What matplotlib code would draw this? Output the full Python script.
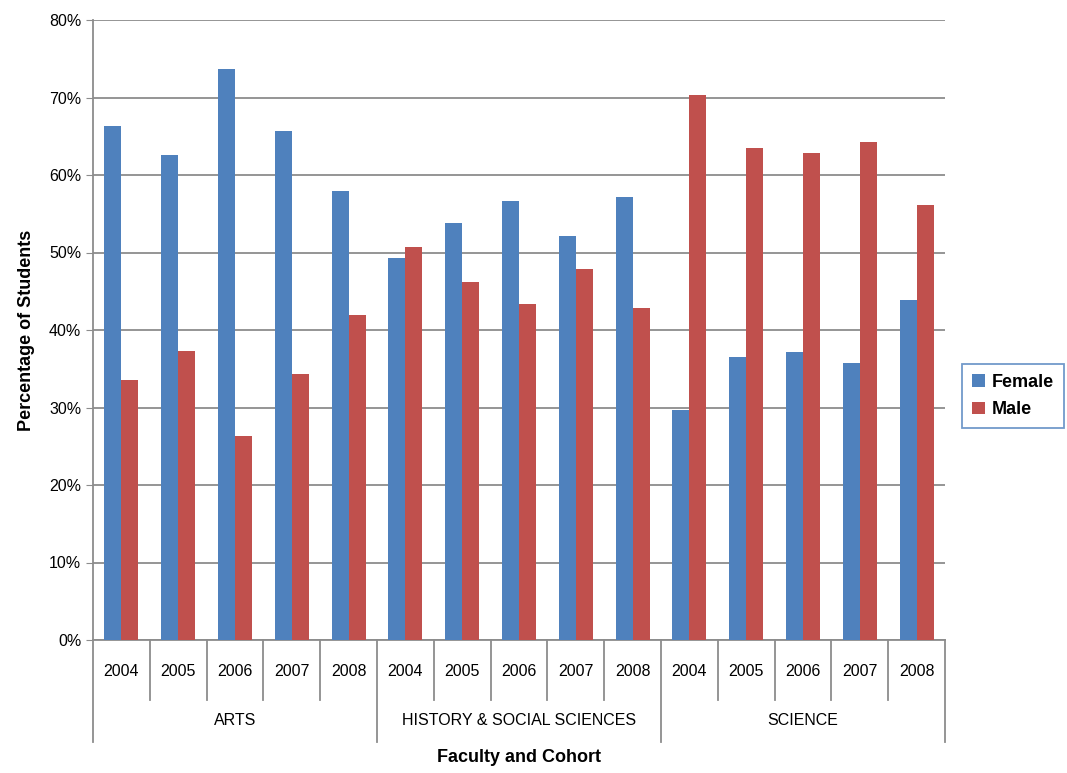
import matplotlib
matplotlib.use("Agg")
import matplotlib.pyplot as plt
import numpy as np

plt.rcParams['font.family'] = ['Liberation Sans', 'DejaVu Sans']

faculties = ["ARTS", "HISTORY & SOCIAL SCIENCES", "SCIENCE"]
years = ["2004", "2005", "2006", "2007", "2008"]
female = [66.3, 62.6, 73.7, 65.7, 58.0,
          49.3, 53.8, 56.6, 52.1, 57.1,
          29.7, 36.5, 37.1, 35.7, 43.9]
male = [33.6, 37.3, 26.3, 34.3, 42.0,
        50.7, 46.2, 43.4, 47.9, 42.9,
        70.3, 63.5, 62.9, 64.3, 56.1]

fig = plt.figure(figsize=(10.67, 7.73), dpi=100)
ax = fig.add_axes([93/1067, 133/773, 852/1067, 620/773])
n = len(female)
x = np.arange(n)
w = 0.3
ax.bar(x - w/2, female, w, color="#4F81BD", label="Female", zorder=3)
ax.bar(x + w/2, male, w, color="#C0504D", label="Male", zorder=3)
ax.set_xlim(-0.5, n - 0.5)
ax.set_ylim(0, 80)
ax.set_yticks(range(0, 81, 10))
ax.set_yticklabels([f"{v}%" for v in range(0, 81, 10)], fontsize=11.5)
ax.yaxis.grid(True, color="#8C8C8C", linewidth=1.3, zorder=0)
ax.tick_params(axis='y', length=5, color="#8C8C8C")
ax.set_xticks([])
for s in ["top", "right"]:
    ax.spines[s].set_visible(False)
for s in ["left", "bottom"]:
    ax.spines[s].set_color("#8C8C8C")
    ax.spines[s].set_linewidth(1.3)

tr = ax.get_xaxis_transform()
for i in range(n):
    ax.text(i, -0.05, years[i % 5], transform=tr, ha="center", va="center", fontsize=11.5)
for b in range(n + 1):
    long = (b % 5 == 0)
    ax.plot([b - 0.5, b - 0.5], [0, -0.165 if long else -0.097], transform=tr,
            color="#8C8C8C", linewidth=1.3, clip_on=False)
for j, f in enumerate(faculties):
    ax.text(j * 5 + 2, -0.13, f, transform=tr, ha="center", va="center", fontsize=11.5)

ax.set_ylabel("Percentage of Students", fontsize=13, fontweight="bold", labelpad=10)
ax.text(7, -0.19, "Faculty and Cohort", transform=tr, ha="center", va="center",
        fontsize=13, fontweight="bold")

leg = fig.legend(loc="center left", bbox_to_anchor=(962/1067, 1 - 396/773),
                 fontsize=13, frameon=True, fancybox=False, handlelength=0.7,
                 handleheight=0.7, handletextpad=0.4, borderpad=0.55,
                 borderaxespad=0, labelspacing=0.6)
for t in leg.get_texts():
    t.set_fontweight("bold")
leg.get_frame().set_edgecolor("#4F81BD")
leg.get_frame().set_linewidth(1.3)

fig.savefig("out.png", dpi=100)
